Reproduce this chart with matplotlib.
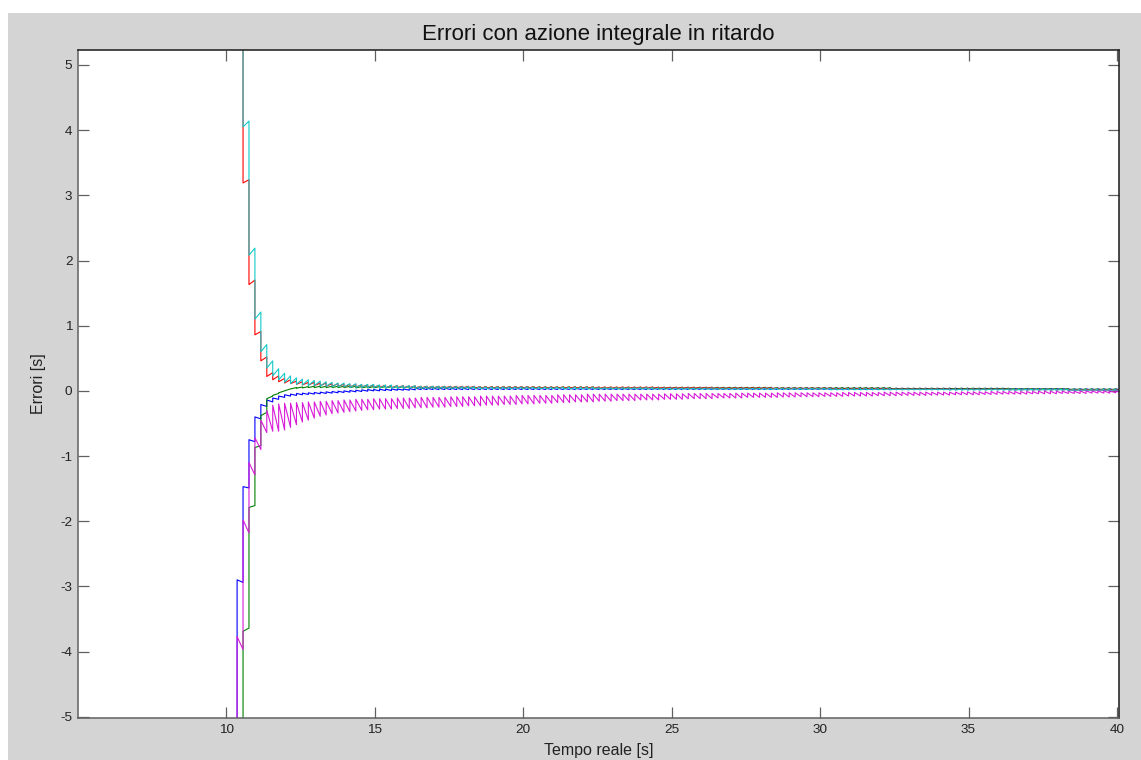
import numpy as np
import matplotlib
matplotlib.use("Agg")
import matplotlib.pyplot as plt
from matplotlib.patches import Rectangle

plt.rcParams["axes.unicode_minus"] = False

# Sampling grid of the discrete controller (s)
sample_t0 = 10.36
sample_dt = 0.2

# Value before the first sample (off the visible range)
blue_start, green_start, red_start, cyan_start, magenta_start = -9.0, -9.0, 9.0, 9.0, -9.0

# For every sample: value right after the update, value at the end of the hold interval
blue_after = [
    -2.90, -1.47, -0.75, -0.40, -0.21, -0.14, -0.11, -0.08, -0.06, -0.05,
    -0.04, -0.035, -0.03, -0.025, -0.02, -0.015, -0.01, -0.005, 0.0, 0.005,
    0.01, 0.015, 0.02, 0.02, 0.025, 0.025, 0.03, 0.03, 0.03, 0.035,
    0.04, 0.04, 0.04, 0.04, 0.04, 0.04, 0.04, 0.04, 0.04, 0.04,
    0.04, 0.04, 0.04, 0.04, 0.04, 0.04, 0.04, 0.04, 0.04, 0.04,
    0.04, 0.04, 0.04, 0.04, 0.04, 0.04, 0.04, 0.04, 0.04, 0.04,
    0.04, 0.04, 0.04, 0.04, 0.04, 0.04, 0.04, 0.04, 0.04, 0.04,
    0.045, 0.045, 0.045, 0.045, 0.045, 0.045, 0.045, 0.045, 0.045, 0.045,
    0.045, 0.045, 0.045, 0.045, 0.045, 0.045, 0.045, 0.045, 0.045, 0.045,
    0.045, 0.045, 0.045, 0.045, 0.045, 0.045, 0.045, 0.045, 0.045, 0.045,
    0.045, 0.045, 0.045, 0.045, 0.045, 0.045, 0.045, 0.045, 0.045, 0.045,
    0.04, 0.04, 0.04, 0.04, 0.04, 0.04, 0.04, 0.04, 0.04, 0.04,
    0.04, 0.04, 0.04, 0.04, 0.04, 0.04, 0.04, 0.04, 0.04, 0.04,
    0.035, 0.035, 0.035, 0.035, 0.035, 0.035, 0.035, 0.035, 0.035, 0.035,
    0.03, 0.03, 0.03, 0.03, 0.03, 0.03, 0.03, 0.03, 0.03,
]
blue_end = [
    -2.94, -1.49, -0.78, -0.43, -0.24, -0.17, -0.13, -0.10, -0.08, -0.07,
    -0.06, -0.055, -0.05, -0.045, -0.04, -0.035, -0.03, -0.025, -0.02, -0.015,
    -0.01, -0.005, 0.0, 0.0, 0.005, 0.005, 0.01, 0.01, 0.01, 0.015,
    0.02, 0.02, 0.02, 0.02, 0.02, 0.02, 0.02, 0.02, 0.02, 0.02,
    0.02, 0.02, 0.02, 0.02, 0.02, 0.02, 0.02, 0.02, 0.02, 0.02,
    0.02, 0.02, 0.02, 0.02, 0.02, 0.02, 0.02, 0.02, 0.02, 0.02,
    0.02, 0.02, 0.02, 0.02, 0.02, 0.02, 0.02, 0.02, 0.02, 0.02,
    0.02, 0.02, 0.02, 0.02, 0.02, 0.02, 0.02, 0.02, 0.02, 0.02,
    0.02, 0.02, 0.02, 0.02, 0.02, 0.02, 0.02, 0.02, 0.02, 0.02,
    0.02, 0.02, 0.02, 0.02, 0.02, 0.02, 0.02, 0.02, 0.02, 0.02,
    0.02, 0.02, 0.02, 0.02, 0.02, 0.02, 0.02, 0.02, 0.02, 0.02,
    0.02, 0.02, 0.02, 0.02, 0.02, 0.02, 0.02, 0.02, 0.02, 0.02,
    0.02, 0.02, 0.02, 0.02, 0.02, 0.02, 0.02, 0.02, 0.02, 0.02,
    0.015, 0.015, 0.015, 0.015, 0.015, 0.015, 0.015, 0.015, 0.015, 0.015,
    0.01, 0.01, 0.01, 0.01, 0.01, 0.01, 0.01, 0.01, 0.01,
]

green_after = [
    -9.0, -3.69, -1.79, -0.87, -0.38, -0.12, -0.07, -0.03, 0.0, 0.03,
    0.04, 0.045, 0.05, 0.05, 0.05, 0.05, 0.05, 0.05, 0.05, 0.05,
    0.045, 0.045, 0.045, 0.045, 0.045, 0.045, 0.045, 0.045, 0.045, 0.045,
    0.04, 0.04, 0.04, 0.04, 0.04, 0.04, 0.04, 0.04, 0.04, 0.04,
    0.04, 0.04, 0.04, 0.04, 0.04, 0.04, 0.04, 0.04, 0.04, 0.04,
    0.04, 0.04, 0.04, 0.04, 0.04, 0.04, 0.04, 0.04, 0.04, 0.04,
    0.035, 0.035, 0.035, 0.035, 0.035, 0.035, 0.035, 0.035, 0.035, 0.035,
    0.035, 0.035, 0.035, 0.035, 0.035, 0.035, 0.035, 0.035, 0.035, 0.035,
    0.035, 0.035, 0.035, 0.035, 0.035, 0.035, 0.035, 0.035, 0.035, 0.035,
    0.03, 0.03, 0.03, 0.03, 0.03, 0.03, 0.03, 0.03, 0.03, 0.03,
    0.03, 0.03, 0.03, 0.03, 0.03, 0.03, 0.03, 0.03, 0.03, 0.03,
    0.025, 0.025, 0.025, 0.025, 0.025, 0.025, 0.025, 0.025, 0.025, 0.025,
    0.025, 0.025, 0.025, 0.025, 0.025, 0.025, 0.025, 0.025, 0.025, 0.025,
    0.02, 0.02, 0.02, 0.02, 0.02, 0.02, 0.02, 0.02, 0.02, 0.02,
    0.015, 0.015, 0.015, 0.015, 0.015, 0.015, 0.015, 0.015, 0.015,
]
green_end = [
    -9.0, -3.64, -1.76, -0.84, -0.33, -0.08, -0.04, 0.0, 0.03, 0.05,
    0.06, 0.065, 0.07, 0.07, 0.07, 0.07, 0.07, 0.07, 0.07, 0.07,
    0.065, 0.065, 0.065, 0.065, 0.065, 0.065, 0.065, 0.065, 0.065, 0.065,
    0.06, 0.06, 0.06, 0.06, 0.06, 0.06, 0.06, 0.06, 0.06, 0.06,
    0.06, 0.06, 0.06, 0.06, 0.06, 0.06, 0.06, 0.06, 0.06, 0.06,
    0.06, 0.06, 0.06, 0.06, 0.06, 0.06, 0.06, 0.06, 0.06, 0.06,
    0.055, 0.055, 0.055, 0.055, 0.055, 0.055, 0.055, 0.055, 0.055, 0.055,
    0.055, 0.055, 0.055, 0.055, 0.055, 0.055, 0.055, 0.055, 0.055, 0.055,
    0.055, 0.055, 0.055, 0.055, 0.055, 0.055, 0.055, 0.055, 0.055, 0.055,
    0.05, 0.05, 0.05, 0.05, 0.05, 0.05, 0.05, 0.05, 0.05, 0.05,
    0.05, 0.05, 0.05, 0.05, 0.05, 0.05, 0.05, 0.05, 0.05, 0.05,
    0.04, 0.04, 0.04, 0.04, 0.04, 0.04, 0.04, 0.04, 0.04, 0.04,
    0.04, 0.04, 0.04, 0.04, 0.04, 0.04, 0.04, 0.04, 0.04, 0.04,
    0.035, 0.035, 0.035, 0.035, 0.035, 0.035, 0.035, 0.035, 0.035, 0.035,
    0.03, 0.03, 0.03, 0.03, 0.03, 0.03, 0.03, 0.03, 0.03,
]

red_after = [
    9.0, 3.19, 1.63, 0.86, 0.46, 0.22, 0.17, 0.14, 0.12, 0.11,
    0.10, 0.09, 0.09, 0.08, 0.08, 0.07, 0.07, 0.07, 0.06, 0.06,
    0.06, 0.06, 0.055, 0.055, 0.055, 0.05, 0.05, 0.05, 0.05, 0.05,
    0.045, 0.045, 0.045, 0.045, 0.045, 0.045, 0.045, 0.045, 0.045, 0.045,
    0.04, 0.04, 0.04, 0.04, 0.04, 0.04, 0.04, 0.04, 0.04, 0.04,
    0.04, 0.04, 0.04, 0.04, 0.04, 0.04, 0.04, 0.04, 0.04, 0.04,
    0.035, 0.035, 0.035, 0.035, 0.035, 0.035, 0.035, 0.035, 0.035, 0.035,
    0.035, 0.035, 0.035, 0.035, 0.035, 0.035, 0.035, 0.035, 0.035, 0.035,
    0.03, 0.03, 0.03, 0.03, 0.03, 0.03, 0.03, 0.03, 0.03, 0.03,
    0.03, 0.03, 0.03, 0.03, 0.03, 0.03, 0.03, 0.03, 0.03, 0.03,
    0.025, 0.025, 0.025, 0.025, 0.025, 0.025, 0.025, 0.025, 0.025, 0.025,
    0.02, 0.02, 0.02, 0.02, 0.02, 0.02, 0.02, 0.02, 0.02, 0.02,
    0.02, 0.02, 0.02, 0.02, 0.02, 0.02, 0.02, 0.02, 0.02, 0.02,
    0.015, 0.015, 0.015, 0.015, 0.015, 0.015, 0.015, 0.015, 0.015, 0.015,
    0.01, 0.01, 0.01, 0.01, 0.01, 0.01, 0.01, 0.01, 0.01,
]
red_end = [
    9.0, 3.24, 1.70, 0.91, 0.52, 0.28, 0.23, 0.19, 0.17, 0.15,
    0.14, 0.13, 0.13, 0.12, 0.12, 0.11, 0.11, 0.10, 0.10, 0.10,
    0.09, 0.09, 0.09, 0.085, 0.085, 0.08, 0.08, 0.08, 0.075, 0.075,
    0.07, 0.07, 0.07, 0.07, 0.07, 0.07, 0.07, 0.07, 0.07, 0.07,
    0.065, 0.065, 0.065, 0.065, 0.065, 0.065, 0.065, 0.065, 0.065, 0.065,
    0.06, 0.06, 0.06, 0.06, 0.06, 0.06, 0.06, 0.06, 0.06, 0.06,
    0.06, 0.06, 0.06, 0.06, 0.06, 0.06, 0.06, 0.06, 0.06, 0.06,
    0.055, 0.055, 0.055, 0.055, 0.055, 0.055, 0.055, 0.055, 0.055, 0.055,
    0.05, 0.05, 0.05, 0.05, 0.05, 0.05, 0.05, 0.05, 0.05, 0.05,
    0.045, 0.045, 0.045, 0.045, 0.045, 0.045, 0.045, 0.045, 0.045, 0.045,
    0.04, 0.04, 0.04, 0.04, 0.04, 0.04, 0.04, 0.04, 0.04, 0.04,
    0.035, 0.035, 0.035, 0.035, 0.035, 0.035, 0.035, 0.035, 0.035, 0.035,
    0.03, 0.03, 0.03, 0.03, 0.03, 0.03, 0.03, 0.03, 0.03, 0.03,
    0.025, 0.025, 0.025, 0.025, 0.025, 0.025, 0.025, 0.025, 0.025, 0.025,
    0.02, 0.02, 0.02, 0.02, 0.02, 0.02, 0.02, 0.02, 0.02,
]

cyan_after = [
    9.0, 4.05, 2.08, 1.10, 0.60, 0.35, 0.23, 0.17, 0.13, 0.11,
    0.10, 0.09, 0.08, 0.08, 0.07, 0.07, 0.06, 0.06, 0.06, 0.05,
    0.05, 0.05, 0.05, 0.05, 0.04, 0.04, 0.04, 0.04, 0.04, 0.04,
    0.035, 0.035, 0.035, 0.035, 0.035, 0.035, 0.035, 0.035, 0.035, 0.035,
    0.03, 0.03, 0.03, 0.03, 0.03, 0.03, 0.03, 0.03, 0.03, 0.03,
    0.03, 0.03, 0.03, 0.03, 0.03, 0.025, 0.025, 0.025, 0.025, 0.025,
    0.025, 0.025, 0.025, 0.025, 0.025, 0.025, 0.025, 0.025, 0.025, 0.025,
    0.02, 0.02, 0.02, 0.02, 0.02, 0.02, 0.02, 0.02, 0.02, 0.02,
    0.02, 0.02, 0.02, 0.02, 0.02, 0.02, 0.02, 0.02, 0.02, 0.02,
    0.02, 0.02, 0.02, 0.02, 0.02, 0.02, 0.02, 0.02, 0.02, 0.02,
    0.015, 0.015, 0.015, 0.015, 0.015, 0.015, 0.015, 0.015, 0.015, 0.015,
    0.015, 0.015, 0.015, 0.015, 0.015, 0.015, 0.015, 0.015, 0.015, 0.015,
    0.01, 0.01, 0.01, 0.01, 0.01, 0.01, 0.01, 0.01, 0.01, 0.01,
    0.01, 0.01, 0.01, 0.01, 0.01, 0.01, 0.01, 0.01, 0.01, 0.01,
    0.005, 0.005, 0.005, 0.005, 0.005, 0.005, 0.005, 0.005, 0.005,
]
cyan_end = [
    9.0, 4.14, 2.19, 1.21, 0.71, 0.46, 0.34, 0.27, 0.23, 0.20,
    0.18, 0.17, 0.16, 0.15, 0.14, 0.13, 0.12, 0.12, 0.11, 0.11,
    0.10, 0.10, 0.10, 0.09, 0.09, 0.09, 0.08, 0.08, 0.08, 0.08,
    0.07, 0.07, 0.07, 0.07, 0.07, 0.065, 0.065, 0.065, 0.065, 0.065,
    0.06, 0.06, 0.06, 0.06, 0.06, 0.06, 0.06, 0.06, 0.06, 0.06,
    0.055, 0.055, 0.055, 0.055, 0.055, 0.055, 0.055, 0.055, 0.055, 0.055,
    0.05, 0.05, 0.05, 0.05, 0.05, 0.05, 0.05, 0.05, 0.05, 0.05,
    0.045, 0.045, 0.045, 0.045, 0.045, 0.045, 0.045, 0.045, 0.045, 0.045,
    0.04, 0.04, 0.04, 0.04, 0.04, 0.04, 0.04, 0.04, 0.04, 0.04,
    0.04, 0.04, 0.04, 0.04, 0.04, 0.04, 0.04, 0.04, 0.04, 0.04,
    0.035, 0.035, 0.035, 0.035, 0.035, 0.035, 0.035, 0.035, 0.035, 0.035,
    0.03, 0.03, 0.03, 0.03, 0.03, 0.03, 0.03, 0.03, 0.03, 0.03,
    0.03, 0.03, 0.03, 0.03, 0.03, 0.03, 0.03, 0.03, 0.03, 0.03,
    0.025, 0.025, 0.025, 0.025, 0.025, 0.025, 0.025, 0.025, 0.025, 0.025,
    0.02, 0.02, 0.02, 0.02, 0.02, 0.02, 0.02, 0.02, 0.02,
]

magenta_after = [
    -3.77, -1.98, -1.10, -0.72, -0.45, -0.30, -0.22, -0.20, -0.19, -0.19,
    -0.18, -0.18, -0.17, -0.17, -0.16, -0.16, -0.15, -0.15, -0.14, -0.14,
    -0.13, -0.13, -0.13, -0.12, -0.12, -0.12, -0.12, -0.11, -0.11, -0.11,
    -0.11, -0.10, -0.10, -0.10, -0.10, -0.10, -0.09, -0.09, -0.09, -0.09,
    -0.09, -0.08, -0.08, -0.08, -0.08, -0.08, -0.08, -0.07, -0.07, -0.07,
    -0.07, -0.07, -0.07, -0.07, -0.06, -0.06, -0.06, -0.06, -0.06, -0.05,
    -0.05, -0.05, -0.05, -0.05, -0.05, -0.05, -0.05, -0.05, -0.05, -0.05,
    -0.05, -0.05, -0.045, -0.045, -0.045, -0.045, -0.04, -0.04, -0.04, -0.04,
    -0.04, -0.04, -0.04, -0.04, -0.035, -0.035, -0.035, -0.035, -0.035, -0.035,
    -0.035, -0.03, -0.03, -0.03, -0.03, -0.03, -0.03, -0.03, -0.03, -0.03,
    -0.03, -0.03, -0.025, -0.025, -0.025, -0.025, -0.025, -0.025, -0.025, -0.02,
    -0.02, -0.02, -0.02, -0.02, -0.02, -0.02, -0.02, -0.02, -0.02, -0.02,
    -0.02, -0.02, -0.015, -0.015, -0.015, -0.015, -0.015, -0.01, -0.01, -0.01,
    -0.01, -0.01, -0.01, -0.01, -0.01, -0.005, -0.005, -0.005, -0.005, -0.005,
    -0.005, -0.005, 0.0, 0.0, 0.0, 0.0, 0.0, 0.0, 0.0,
]
magenta_end = [
    -3.97, -2.18, -1.29, -0.90, -0.64, -0.62, -0.62, -0.60, -0.56, -0.52,
    -0.48, -0.45, -0.42, -0.39, -0.37, -0.35, -0.34, -0.33, -0.32, -0.31,
    -0.30, -0.29, -0.29, -0.28, -0.28, -0.28, -0.27, -0.27, -0.27, -0.26,
    -0.26, -0.26, -0.25, -0.25, -0.25, -0.24, -0.24, -0.24, -0.23, -0.23,
    -0.23, -0.22, -0.22, -0.22, -0.21, -0.21, -0.21, -0.20, -0.20, -0.20,
    -0.19, -0.19, -0.19, -0.18, -0.18, -0.18, -0.17, -0.17, -0.17, -0.17,
    -0.16, -0.16, -0.16, -0.15, -0.15, -0.15, -0.15, -0.14, -0.14, -0.14,
    -0.14, -0.13, -0.13, -0.13, -0.13, -0.12, -0.12, -0.12, -0.12, -0.12,
    -0.11, -0.11, -0.11, -0.11, -0.11, -0.10, -0.10, -0.10, -0.10, -0.10,
    -0.10, -0.095, -0.095, -0.095, -0.09, -0.09, -0.09, -0.09, -0.085, -0.085,
    -0.085, -0.085, -0.08, -0.08, -0.08, -0.08, -0.08, -0.075, -0.075, -0.075,
    -0.075, -0.07, -0.07, -0.07, -0.07, -0.07, -0.065, -0.065, -0.065, -0.065,
    -0.06, -0.06, -0.06, -0.06, -0.06, -0.055, -0.055, -0.055, -0.05, -0.05,
    -0.05, -0.05, -0.05, -0.045, -0.045, -0.045, -0.045, -0.045, -0.04, -0.04,
    -0.04, -0.04, -0.04, -0.035, -0.035, -0.035, -0.035, -0.03, -0.03,
]

x_ticks = [10, 15, 20, 25, 30, 35, 40]
y_ticks = [-5, -4, -3, -2, -1, 0, 1, 2, 3, 4, 5]


def held_trace(start, after, end):
    """Sample-and-hold polyline: jump at each sample, linear drift until the next one."""
    n = min(len(after), len(end))
    t = sample_t0 + sample_dt * np.arange(n + 1)
    xs, ys = [t[0]], [start]
    for k in range(n):
        xs += [t[k], t[k + 1]]
        ys += [after[k], end[k]]
    return np.array(xs), np.array(ys)


W, H = 1141, 760
fig = plt.figure(figsize=(W / 100, H / 100), dpi=100, facecolor="white")
fig.patches.append(Rectangle((8 / W, 0), 1, 1 - 13 / H, transform=fig.transFigure,
                             facecolor="#d4d4d4", edgecolor="none", zorder=-10))

ax = fig.add_axes([78 / W, 42 / H, (1119 - 78) / W, (718 - 50) / H])
ax.set_facecolor("white")

series = [
    (blue_start, blue_after, blue_end, "#0000ff"),
    (green_start, green_after, green_end, "#008000"),
    (red_start, red_after, red_end, "#ff0000"),
    (cyan_start, cyan_after, cyan_end, "#14c8c8"),
    (magenta_start, magenta_after, magenta_end, "#d81bd8"),
]
for start, after, end, col in series:
    xs, ys = held_trace(start, after, end)
    ax.plot(xs, ys, color=col, lw=0.8)

ax.set_xlim(5.0, 40.07)
ax.set_ylim(-5.02, 5.23)
ax.set_xticks(x_ticks)
ax.set_yticks(y_ticks)

font = "Liberation Sans"
ax.tick_params(direction="in", length=8, width=0.9, color="#606060",
               top=True, right=True, labelsize=9.7, labelcolor="#222222", pad=4)
for lbl in ax.get_xticklabels() + ax.get_yticklabels():
    lbl.set_family(font)

for side in ("left", "bottom"):
    ax.spines[side].set_color("#606060")
    ax.spines[side].set_linewidth(1.1)
for side in ("top", "right"):
    ax.spines[side].set_color("#1a1a1a")
    ax.spines[side].set_linewidth(1.1)

ax.set_title("Errori con azione integrale in ritardo", family=font, fontsize=16,
             color="#111111", pad=7)
ax.set_xlabel("Tempo reale [s]", family=font, fontsize=11.5, color="#222222", labelpad=5)
ax.set_ylabel("Errori [s]", family=font, fontsize=11.5, color="#222222", labelpad=10)

fig.savefig("out.png", dpi=100, facecolor=fig.get_facecolor())
